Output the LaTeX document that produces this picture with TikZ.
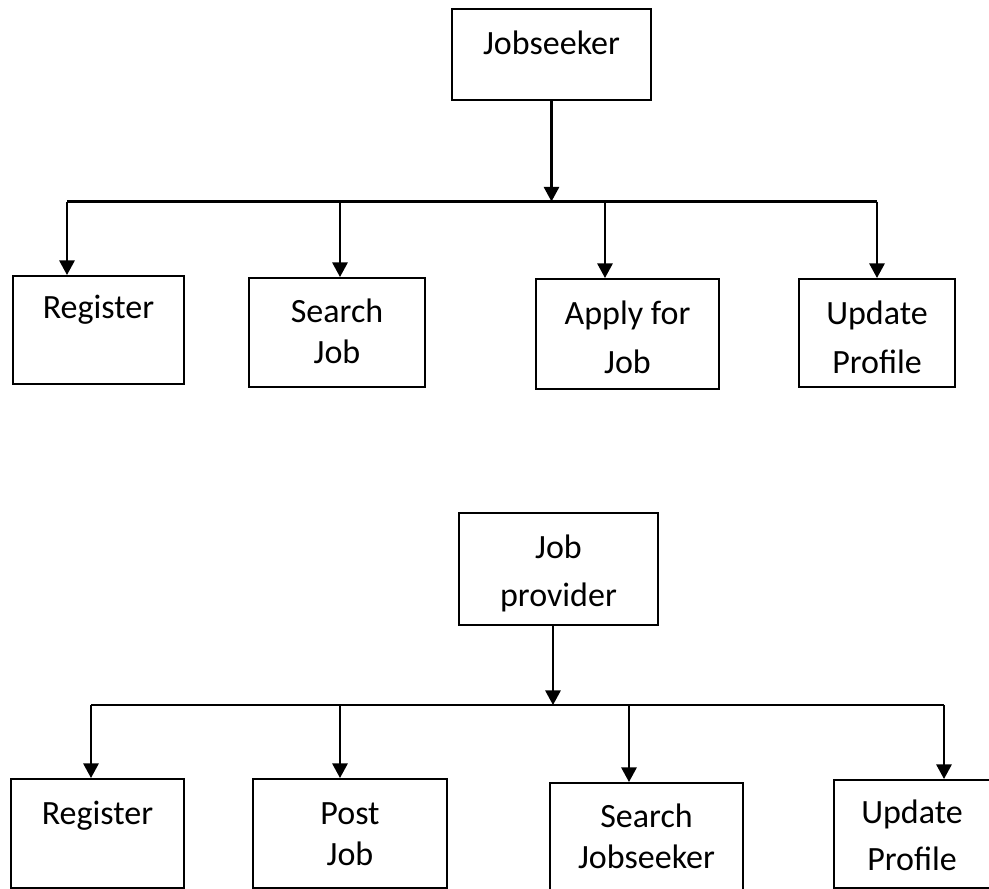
\documentclass[tikz,border=0pt]{standalone}
\usepackage{fontspec}
\setmainfont{Carlito}
\usetikzlibrary{arrows.meta}
\newcommand\pxu{0.75pt}
\tikzset{
  box/.style={draw=black, line width=1.5pt, fill=white, inner sep=0pt},
  lbl/.style={inner sep=0pt, align=center, anchor=base},
  link/.style={draw=black, line width=1.6pt},
  arr/.style={link, -{Triangle[width=11.5pt,length=11pt]}},
}
\begin{document}
\begin{tikzpicture}[x=\pxu, y=-\pxu]
\useasboundingbox (0,0) rectangle (989,889);
\clip (0,0) rectangle (989,889);

% ---------- Jobseeker tree ----------
% (multi-line labels are placed by the baseline of their last line)
\node[box, minimum width=199*\pxu, minimum height=91*\pxu] (js) at (551.5,54.5) {};
\node[lbl, font=\fontsize{25.5}{30.75}\selectfont] (jst) at (551.5,54) {Jobseeker};

\node[box, minimum width=171*\pxu, minimum height=108*\pxu] (r1) at (98.5,330) {};
\node[lbl, font=\fontsize{25.5}{30.75}\selectfont] (r1t) at (98.5,318) {Register};

\node[box, minimum width=176*\pxu, minimum height=109*\pxu] (s1) at (337,332.5) {};
\node[lbl, font=\fontsize{25.5}{30.75}\selectfont] (s1t) at (337,363) {Search\\Job};

\node[box, minimum width=183*\pxu, minimum height=110*\pxu] (a1) at (627.5,334) {};
\node[lbl, font=\fontsize{25.5}{36.75}\selectfont] (a1t) at (627.5,373) {Apply for\\Job};

\node[box, minimum width=156*\pxu, minimum height=108*\pxu] (u1) at (877,333) {};
\node[lbl, font=\fontsize{25.5}{36.75}\selectfont] (u1t) at (877,373) {Update\\Profile};

\coordinate (b1L) at (67,201.5);
\coordinate (b1R) at (877,201.5);
\coordinate (b1s) at (340,201.5);
\coordinate (b1a) at (605,201.5);

\draw[arr] (js.south) -- (js.south |- b1L);
\draw[link] (b1L) -- (b1R);
\draw[arr] (b1L) -- (b1L |- r1.north);
\draw[arr] (b1s) -- (b1s |- s1.north);
\draw[arr] (b1a) -- (b1a |- a1.north);
\draw[arr] (b1R) -- (b1R |- u1.north);

% ---------- Job provider tree ----------
\node[box, minimum width=199*\pxu, minimum height=112*\pxu] (jp) at (558.5,569) {};
\node[lbl, font=\fontsize{25.5}{36}\selectfont] (jpt) at (558.5,606) {Job\\provider};

\node[box, minimum width=173*\pxu, minimum height=109*\pxu] (r2) at (97.5,833.5) {};
\node[lbl, font=\fontsize{25.5}{30.75}\selectfont] (r2t) at (97.5,824) {Register};

\node[box, minimum width=194*\pxu, minimum height=109*\pxu] (p2) at (350,833.5) {};
\node[lbl, font=\fontsize{25.5}{30.75}\selectfont] (p2t) at (350,865) {Post\\Job};

\node[box, minimum width=193*\pxu, minimum height=120*\pxu] (s2) at (646.5,843) {};
\node[lbl, font=\fontsize{25.5}{30.75}\selectfont] (s2t) at (646.5,868) {Search\\Jobseeker};

\node[box, minimum width=160*\pxu, minimum height=108*\pxu] (u2) at (914,834) {};
\node[lbl, font=\fontsize{25.5}{35.25}\selectfont] (u2t) at (912,870) {Update\\Profile};

\coordinate (b2L) at (91,705);
\coordinate (b2R) at (944,705);
\coordinate (b2j) at (553,705);
\coordinate (b2p) at (340,705);
\coordinate (b2s) at (629,705);

\draw[arr] (b2j |- jp.south) -- (b2j);
\draw[link] (b2L) -- (b2R);
\draw[arr] (b2L) -- (b2L |- r2.north);
\draw[arr] (b2p) -- (b2p |- p2.north);
\draw[arr] (b2s) -- (b2s |- s2.north);
\draw[arr] (b2R) -- (b2R |- u2.north);
\end{tikzpicture}
\end{document}
